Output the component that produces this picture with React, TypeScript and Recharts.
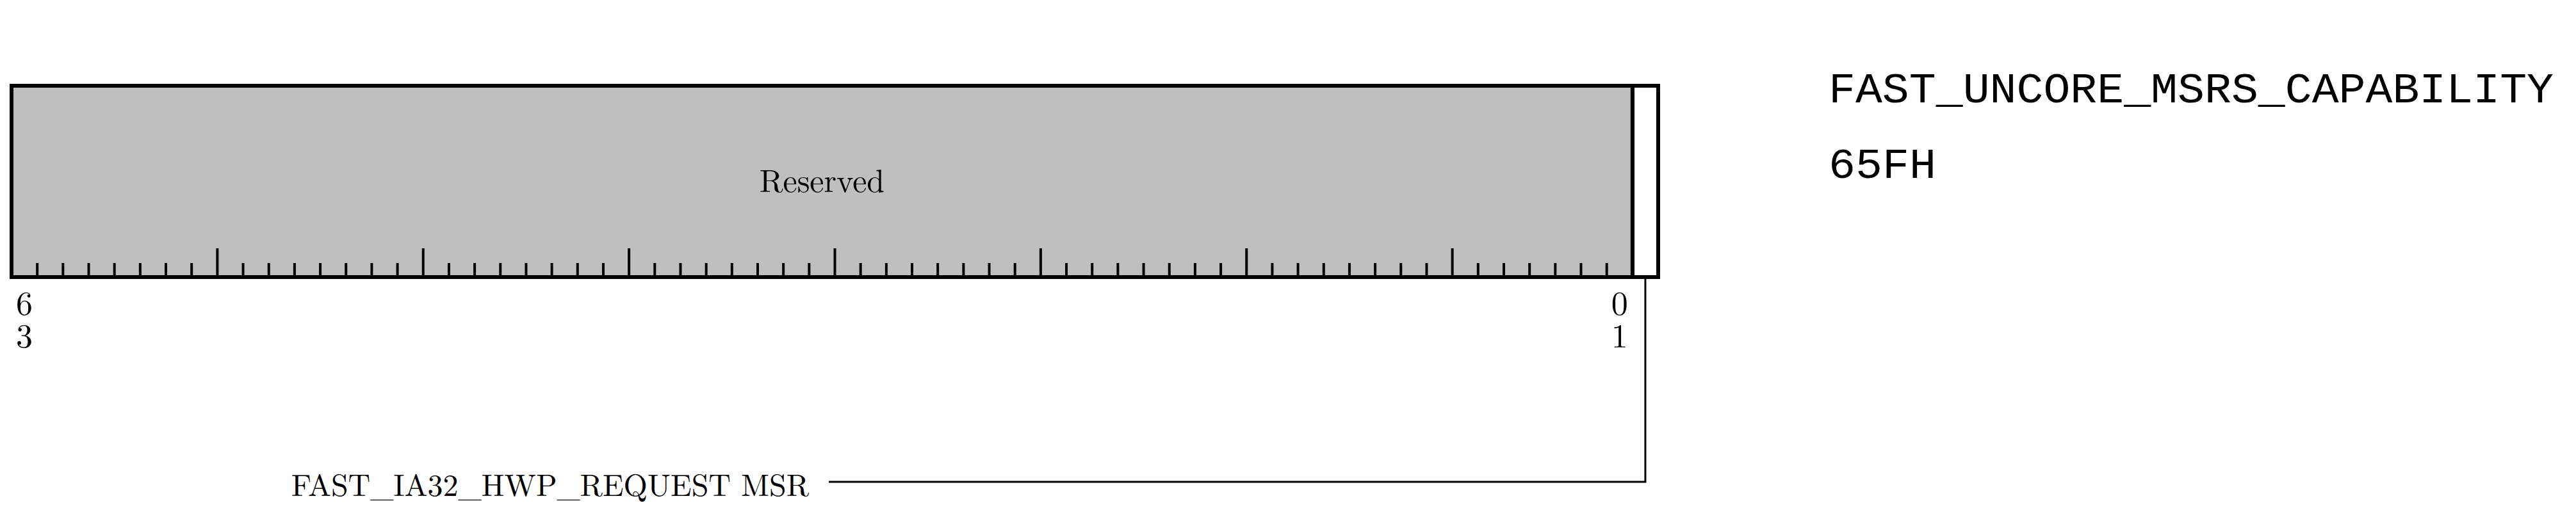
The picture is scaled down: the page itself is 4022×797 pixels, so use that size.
import { Bar, BarChart, LabelList, XAxis, YAxis } from "recharts";

// Register layout: field widths in bits, from bit 0 upward, on a reversed 0..64 axis.
const fieldNames = ["", "Reserved"];
const fieldWidths = [1, 63];
const fieldFills = ["#ffffff", "#bfbfbf"];
const msrName = "FAST_UNCORE_MSRS_CAPABILITY";
const msrAddress = "65FH";
const leaderLabel = "FAST_IA32_HWP_REQUEST MSR";
const boundaries = Array.from({ length: 63 }, (_, i) => i + 1);

const W = 4014;
const H = 789;
const TOP = 126;
const BOTTOM = 425;
const SERIF = "'Latin Modern Roman', 'DejaVu Serif', 'Liberation Serif', serif";

const row: Record<string, unknown> = { name: "reg" };
fieldWidths.forEach((w, i) => {
	row[`f${i}`] = w;
});
const data = [row];

function TopTick({ x, payload }: any) {
	const v = payload.value as number;
	if (Number.isInteger(v)) {
		const len = v % 8 === 0 ? 45 : 22;
		return <line x1={x} x2={x} y1={TOP} y2={TOP + len} stroke="#000" strokeWidth={4} />;
	}
	const hi = String(Math.floor(v)).padStart(2, "0");
	return (
		<g fontFamily={SERIF} fontSize={52} textAnchor="middle">
			<text x={x} y={50}>{hi[0]}</text>
			<text x={x} y={104}>{hi[1]}</text>
		</g>
	);
}

function BottomTick({ x, payload }: any) {
	const v = payload.value as number;
	if (Number.isInteger(v)) {
		const len = v % 8 === 0 ? 45 : 22;
		return <line x1={x} x2={x} y1={BOTTOM} y2={BOTTOM - len} stroke="#000" strokeWidth={4} />;
	}
	if (v < 1) {
		return (
			<g>
				<path d={`M${x},${BOTTOM} V745 H1286`} fill="none" stroke="#000" strokeWidth={3} />
				<text x={1255} y={767} fontFamily={SERIF} fontSize={48} textAnchor="end">
					{leaderLabel}
				</text>
			</g>
		);
	}
	const lo = String(Math.floor(v)).padStart(2, "0");
	return (
		<g fontFamily={SERIF} fontSize={52} textAnchor="middle">
			<text x={x} y={484}>{lo[0]}</text>
			<text x={x} y={535}>{lo[1]}</text>
		</g>
	);
}

export default function App() {
	return (
		<div style={{ position: "relative", width: W, height: H }}>
			<BarChart
				width={W}
				height={H}
				data={data}
				layout="vertical"
				margin={{ top: TOP - 1, bottom: H - BOTTOM - 1, left: 10, right: W - 10 - 2571 }}
				barCategoryGap={0}
			>
				<XAxis
					xAxisId="top"
					orientation="top"
					type="number"
					domain={[0, 64]}
					reversed
					height={1}
					axisLine={false}
					tickLine={false}
					ticks={[...boundaries, 0.5]}
					tick={<TopTick />}
					interval={0}
				/>
				<XAxis
					xAxisId="bottom"
					orientation="bottom"
					type="number"
					domain={[0, 64]}
					reversed
					height={1}
					axisLine={false}
					tickLine={false}
					ticks={[...boundaries, 63.5, 1.5, 0.5]}
					tick={<BottomTick />}
					interval={0}
				/>
				<YAxis type="category" dataKey="name" hide width={0} />
				{fieldWidths.map((_, i) => (
					<Bar
						key={i}
						xAxisId="bottom"
						stackId="reg"
						dataKey={`f${i}`}
						fill={fieldFills[i]}
						stroke="#000"
						strokeWidth={6}
						isAnimationActive={false}
					>
						{fieldNames[i] && (
							<LabelList
								dataKey={`f${i}`}
								content={({ x, y, width, height }: any) => (
									<text
										x={x + width / 2}
										y={y + height / 2 + 16}
										textAnchor="middle"
										fontFamily={SERIF}
										fontSize={50}
									>
										{fieldNames[i]}
									</text>
								)}
							/>
						)}
					</Bar>
				))}
			</BarChart>
			<svg width={1160} height={300} style={{ position: "absolute", left: 2847, top: 0 }}>
				<g fontFamily="'Liberation Mono', 'DejaVu Sans Mono', monospace" fontSize={66}>
					<text x={0} y={152} textLength={1132} lengthAdjust="spacingAndGlyphs">
						{msrName}
					</text>
					<text x={0} y={270} textLength={168} lengthAdjust="spacingAndGlyphs">
						{msrAddress}
					</text>
				</g>
			</svg>
		</div>
	);
}
